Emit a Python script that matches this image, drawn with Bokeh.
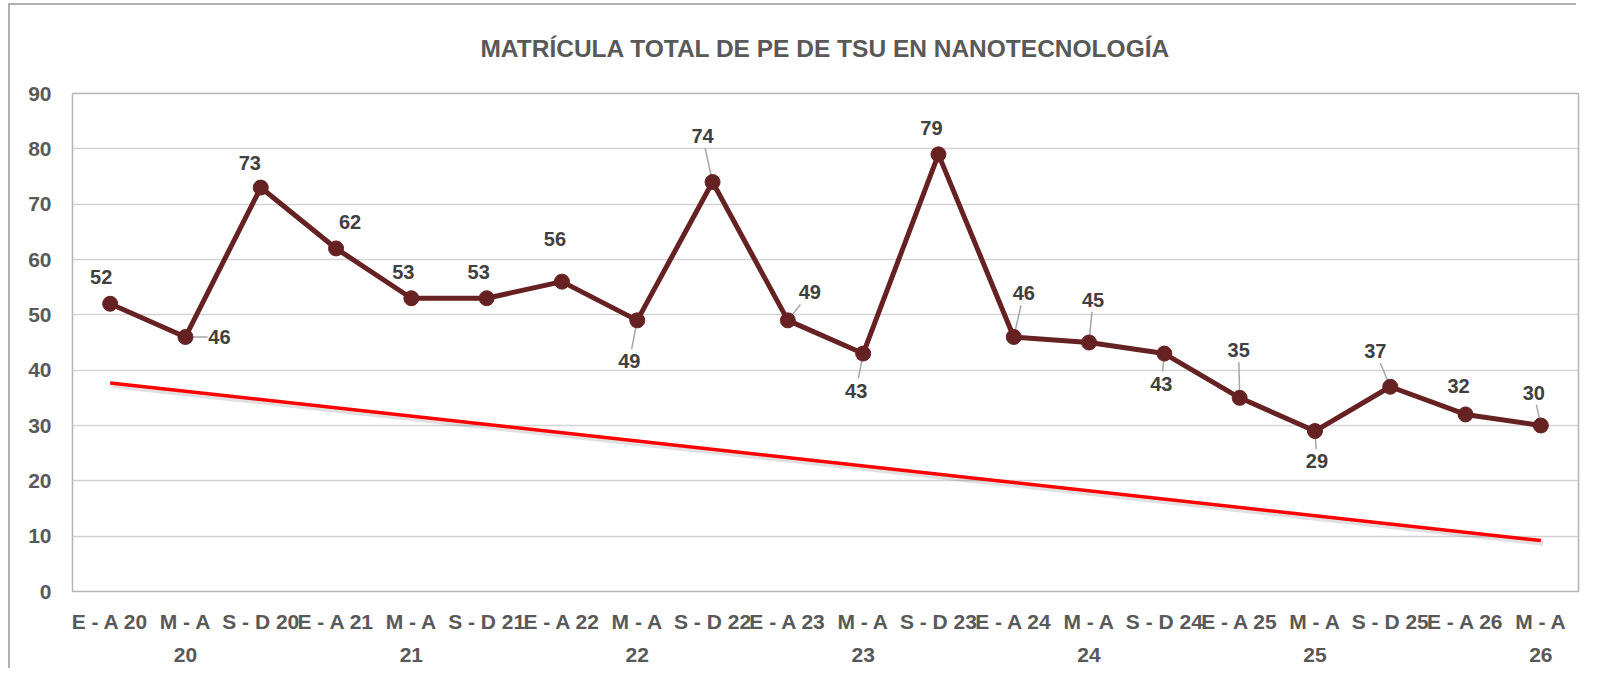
from bokeh.plotting import figure
from bokeh.models import ColumnDataSource, FixedTicker, Range1d
from bokeh.core.properties import value
from bokeh.embed import file_html
from bokeh.resources import INLINE

# ---- data ----
periods = ["E - A 20", "M - A\n20", "S - D 20", "E - A 21", "M - A\n21", "S - D 21",
           "E - A 22", "M - A\n22", "S - D 22", "E - A 23", "M - A\n23", "S - D 23",
           "E - A 24", "M - A\n24", "S - D 24", "E - A 25", "M - A\n25", "S - D 25",
           "E - A 26", "M - A\n26"]
matricula = [52, 46, 73, 62, 53, 53, 56, 49, 74, 49, 43, 79, 46, 45, 43, 35, 29, 37, 32, 30]
trend_idx = [0, 19]
trend_vals = [37.7, 9.2]
y_ticks = [0, 10, 20, 30, 40, 50, 60, 70, 80, 90]

# label placement (pixel offsets from point) and which ones have leader lines
lab_dx = [-9, 34, -11, 14, -8, -8, -7, -8, -10, 22, -7, -7, 10, 4, -3, -1, 2, -15, -7, -7]
lab_dy = [-27, 0, -25, -26, -26, -26, -43, 41, -46, -28, 37, -26, -44, -43, 30, -48, 30, -36, -28, -33]
leader = [0, 1, 0, 0, 0, 0, 0, 1, 1, 1, 1, 0, 1, 1, 1, 1, 1, 1, 0, 1]

FONT = "Liberation Sans"
W, H = 1589, 668
L, R, T, B = 72, 11, 93, 72
xs = list(range(len(periods)))

p = figure(width=W, height=H, output_backend="svg", toolbar_location=None,
           x_range=Range1d(-0.5, len(periods) - 0.5), y_range=Range1d(0, 90),
           min_border_left=L, min_border_right=R, min_border_top=T, min_border_bottom=B)

px_per_x = (W - L - R) / len(periods)
px_per_y = (H - T - B) / 90.0

p.title.text = "MATRÍCULA TOTAL DE PE DE TSU EN NANOTECNOLOGÍA"
p.title.align = "center"
p.title.text_font = FONT
p.title.text_font_size = "24.5px"
p.title.text_font_style = "bold"
p.title.text_color = "#595959"
p.title.standoff = 64

p.outline_line_color = "#B4B4B4"
p.outline_line_width = 1.5
p.xgrid.grid_line_color = None
p.ygrid.grid_line_color = "#D3D3D3"
p.ygrid.grid_line_width = 1.5
p.background_fill_color = "white"
p.border_fill_alpha = 0.0
# chart-area frame (left and top edges), drawn behind the transparent border area
p.styles = {
    "background-color": "white",
    "background-image": "linear-gradient(#B0B0B0,#B0B0B0), linear-gradient(#B0B0B0,#B0B0B0)",
    "background-size": "2px 100%, 1568px 2px",
    "background-position": "8px 3px, 8px 3px",
    "background-repeat": "no-repeat",
}

p.yaxis.ticker = FixedTicker(ticks=y_ticks)
p.xaxis.ticker = FixedTicker(ticks=xs)
p.xaxis.major_label_overrides = {i: s for i, s in enumerate(periods)}
for ax in (p.xaxis[0], p.yaxis[0]):
    ax.axis_line_color = None
    ax.major_tick_line_color = None
    ax.minor_tick_line_color = None
    ax.major_tick_out = 0
    ax.major_tick_in = 0
    ax.major_label_text_font = FONT
    ax.major_label_text_font_style = "bold"
    ax.major_label_text_font_size = "21px"
    ax.major_label_text_color = "#595959"
p.yaxis.major_label_standoff = 21
p.xaxis.major_label_standoff = 18
p.xaxis.major_label_text_line_height = 1.45

# trend line
p.line([x + 0.03 for x in trend_idx], [v - 0.5 for v in trend_vals], line_color="#000000",
       line_alpha=0.12, line_width=5)
p.line(trend_idx, trend_vals, line_color="#FF0000", line_width=3.5)

# leader lines
lx0, ly0, lx1, ly1 = [], [], [], []
for i, (dx, dy, ld) in enumerate(zip(lab_dx, lab_dy, leader)):
    if not ld:
        continue
    if abs(dx) > abs(dy):
        ex, ey = dx - (12 if dx > 0 else -12), dy
    else:
        f = (abs(dy) - 12) / abs(dy)
        ex, ey = dx * f, dy * f
    lx0.append(xs[i]); ly0.append(matricula[i])
    lx1.append(xs[i] + ex / px_per_x); ly1.append(matricula[i] - ey / px_per_y)
p.segment(lx0, ly0, lx1, ly1, line_color="#A6A6A6", line_width=1.5)

src = ColumnDataSource(dict(x=xs, y=matricula, t=[str(v) for v in matricula],
                            dx=lab_dx, dy=lab_dy))
p.line("x", "y", source=src, line_color="#662222", line_width=5)
p.scatter("x", "y", source=src, size=15, fill_color="#662222", line_color="#662222")
p.text("x", "y", text="t", source=src, x_offset="dx", y_offset="dy",
       text_align="center", text_baseline="middle", text_font=value(FONT),
       text_font_style="bold", text_font_size="20px", text_color="#404040")

open("out.html", "w").write(file_html(p, INLINE))
